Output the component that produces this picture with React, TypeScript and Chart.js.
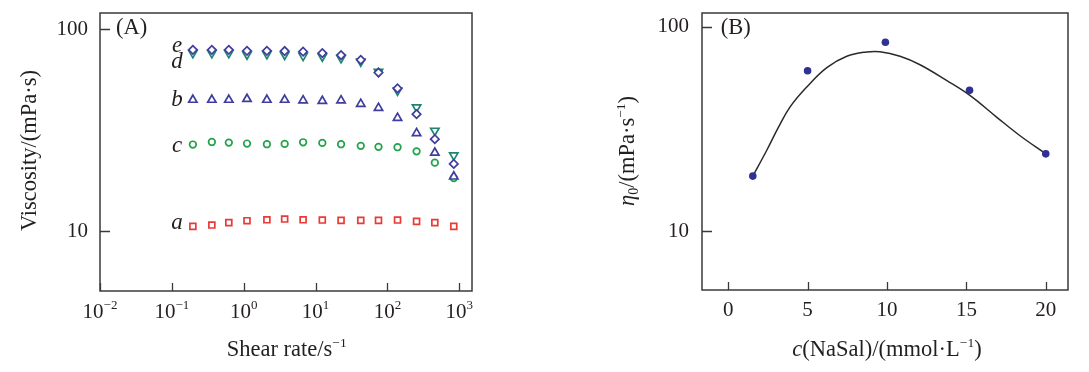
import React, { useEffect, useRef } from "react";
import { Chart, registerables } from "chart.js";

Chart.register(...registerables);

// ---------- Panel A data ----------
const shearRate = [0.196, 0.36, 0.62, 1.11, 2.1, 3.71, 6.7, 12.4, 22.6, 42.5, 75, 138, 254, 456, 837];
const viscA = [10.55, 10.71, 11.0, 11.25, 11.37, 11.47, 11.37, 11.34, 11.3, 11.3, 11.3, 11.34, 11.17, 11.0, 10.55];
const viscB = [44.6, 44.6, 44.6, 45.0, 44.6, 44.6, 44.3, 44.0, 44.3, 42.6, 40.7, 36.3, 30.5, 24.4, 18.6];
const viscC = [26.8, 27.6, 27.4, 27.1, 26.9, 27.0, 27.5, 27.3, 26.9, 26.4, 26.1, 26.0, 24.8, 21.8, 18.3];
const viscD = [76.0, 76.0, 76.0, 74.8, 75.2, 74.6, 73.7, 73.1, 71.8, 69.1, 61.4, 49.6, 41.0, 31.4, 23.7];
const viscE = [78.9, 78.9, 78.9, 78.0, 78.0, 77.8, 77.2, 76.0, 74.3, 70.4, 60.9, 50.8, 37.9, 28.5, 21.5];

const xTicksA = [0.01, 0.1, 1, 10, 100, 1000];
const xTickBaseA = "10";
const xTickExpA = ["\u22122", "\u22121", "0", "1", "2", "3"];
const yTicks = [10, 100];
const yTickLabels = ["10", "100"];

// ---------- Panel B data ----------
const naSalConc = [1.55, 5.0, 9.9, 15.2, 20.0];
const zeroShearVisc = [18.6, 61, 84.1, 48.9, 23.9];
const fitConc = [1.55, 2.43, 3.16, 3.9, 4.95, 6.21, 7.47, 8.72, 9.56, 10.82, 12.08, 13.75, 15.22, 16.9, 18.36, 20.0];
const fitVisc = [18.6, 24.9, 32.2, 40.6, 50.8, 63.2, 71.8, 75.4, 75.6, 71.8, 65.3, 54.7, 46.2, 36.2, 29.4, 23.9];
const xTicksB = [0, 5, 10, 15, 20];
const xTickLabelsB = ["0", "5", "10", "15", "20"];

const FONT = '"Liberation Serif", "Times New Roman", serif';
const TEXT = "#231f20";
const AXIS = "#3a3a3a";
const TICK_SIZE = 21;
const TITLE_SIZE = 22.5;

type Run = { t: string; size?: number; italic?: boolean; dy?: number };
type RichItem = { x: number; y: number; rot?: number; align?: "left" | "center"; runs: Run[] };

function drawRich(ctx: CanvasRenderingContext2D, item: RichItem) {
  ctx.save();
  ctx.translate(item.x, item.y);
  if (item.rot) ctx.rotate((item.rot * Math.PI) / 180);
  ctx.textBaseline = "alphabetic";
  ctx.textAlign = "left";
  ctx.fillStyle = TEXT;
  const fontOf = (r: Run) => `${r.italic ? "italic " : ""}${r.size || TITLE_SIZE}px ${FONT}`;
  const widths = item.runs.map((r) => {
    ctx.font = fontOf(r);
    return ctx.measureText(r.t).width;
  });
  const total = widths.reduce((a, b) => a + b, 0);
  let cx = item.align === "left" ? 0 : -total / 2;
  item.runs.forEach((r, i) => {
    ctx.font = fontOf(r);
    ctx.fillText(r.t, cx, r.dy || 0);
    cx += widths[i];
  });
  ctx.restore();
}

const panelDecor = {
  id: "panelDecor",
  beforeDatasetsDraw(chart: any) {
    const { ctx, chartArea: a, scales } = chart;
    ctx.save();
    ctx.strokeStyle = AXIS;
    ctx.lineWidth = 1.5;
    ctx.strokeRect(a.left, a.top, a.right - a.left, a.bottom - a.top);
    ctx.lineWidth = 1.3;
    ctx.beginPath();
    scales.x.ticks.forEach((t: any) => {
      const px = Math.round(scales.x.getPixelForValue(t.value)) + 0.5;
      ctx.moveTo(px, a.bottom);
      ctx.lineTo(px, a.bottom - 8);
    });
    scales.y.ticks.forEach((t: any) => {
      const py = Math.round(scales.y.getPixelForValue(t.value)) + 0.5;
      ctx.moveTo(a.left, py);
      ctx.lineTo(a.left + 10, py);
    });
    ctx.stroke();
    ctx.restore();
  },
  afterDraw(chart: any, _args: any, opts: any) {
    const items: RichItem[] = (opts && opts.items) || [];
    items.forEach((it) => drawRich(chart.ctx, it));
    if (opts && opts.powerTicks) {
      const sx = chart.scales.x;
      sx.ticks.forEach((t: any, i: number) => {
        drawRich(chart.ctx, {
          x: sx.getPixelForValue(t.value),
          y: 318,
          runs: [
            { t: xTickBaseA, size: TICK_SIZE },
            { t: xTickExpA[i], size: 13, dy: -9 },
          ],
        });
      });
    }
  },
};

const textsA: RichItem[] = [
  { x: 116, y: 34, align: "left", runs: [{ t: "(A)" }] },
  { x: 177, y: 51.7, runs: [{ t: "e", italic: true, size: 23 }] },
  { x: 177, y: 68.3, runs: [{ t: "d", italic: true, size: 23 }] },
  { x: 177, y: 106, runs: [{ t: "b", italic: true, size: 23 }] },
  { x: 177, y: 151.7, runs: [{ t: "c", italic: true, size: 23 }] },
  { x: 177, y: 229.3, runs: [{ t: "a", italic: true, size: 23 }] },
  { x: 36, y: 150.5, rot: -90, runs: [{ t: "Viscosity/(mPa\u00B7s)" }] },
  { x: 286.7, y: 356, runs: [{ t: "Shear rate/s" }, { t: "\u22121", size: 13.5, dy: -9 }] },
];

const textsB: RichItem[] = [
  { x: 175.7, y: 33.5, align: "left", runs: [{ t: "(B)" }] },
  {
    x: 89,
    y: 151,
    rot: -90,
    runs: [
      { t: "\u03B7", italic: true },
      { t: "0", size: 14, dy: 4 },
      { t: "/(mPa\u00B7s" },
      { t: "\u22121", size: 13.5, dy: -9 },
      { t: ")" },
    ],
  },
  {
    x: 342,
    y: 356,
    runs: [
      { t: "c", italic: true },
      { t: "(NaSal)/(mmol\u00B7L" },
      { t: "\u22121", size: 13.5, dy: -9 },
      { t: ")" },
    ],
  },
];

function tickFont() {
  return { family: FONT, size: TICK_SIZE };
}

const fixX = (h: number) => (s: any) => {
  s.height = h;
  s.paddingLeft = 0;
  s.paddingRight = 0;
  s.paddingTop = 0;
  s.paddingBottom = 0;
};
const fixY = (w: number) => (s: any) => {
  s.width = w;
  s.paddingTop = 0;
  s.paddingBottom = 0;
  s.paddingLeft = 0;
  s.paddingRight = 0;
};

export default function App() {
  const refA = useRef<HTMLCanvasElement>(null);
  const refB = useRef<HTMLCanvasElement>(null);

  useEffect(() => {
    const mk = (xs: number[], ys: number[]) => xs.map((x, i) => ({ x, y: ys[i] }));
    const marker = (label: string, ys: number[], style: string, color: string, radius: number, order: number, rotation = 0) => ({
      label,
      data: mk(shearRate, ys),
      pointStyle: style,
      pointRadius: radius,
      pointRotation: rotation,
      pointBorderWidth: 1.7,
      borderColor: color,
      backgroundColor: "#ffffff",
      showLine: false,
      order,
    });

    const chartA = new Chart(refA.current as HTMLCanvasElement, {
      type: "scatter",
      data: {
        datasets: [
          marker("a", viscA, "rect", "#ea3a36", 4.2, 1),
          marker("e", viscE, "rectRot", "#3f3d9e", 4.2, 2),
          marker("b", viscB, "triangle", "#3f3d9e", 4.8, 3),
          marker("d", viscD, "triangle", "#1f8570", 4.8, 4, 180),
          marker("c", viscC, "circle", "#22a34a", 3.3, 5),
        ] as any,
      },
      options: {
        animation: false,
        responsive: false,
        devicePixelRatio: 1,
        layout: { padding: { left: 0, top: 13, right: 73, bottom: 0 } },
        plugins: {
          legend: { display: false },
          tooltip: { enabled: false },
          panelDecor: { items: textsA, powerTicks: true },
        } as any,
        scales: {
          x: {
            type: "logarithmic",
            min: 0.01,
            max: 1500,
            afterBuildTicks: (s: any) => {
              s.ticks = xTicksA.map((v) => ({ value: v }));
            },
            afterFit: fixX(81),
            grid: { display: false, drawTicks: false },
            border: { display: false },
            ticks: { display: false, autoSkip: false, maxRotation: 0 },
          },
          y: {
            type: "logarithmic",
            min: 5.05,
            max: 120,
            afterBuildTicks: (s: any) => {
              s.ticks = yTicks.map((v) => ({ value: v }));
            },
            afterFit: fixY(100),
            grid: { display: false, drawTicks: false },
            border: { display: false },
            ticks: {
              font: tickFont(),
              color: TEXT,
              padding: 12,
              autoSkip: false,
              callback: (_v: any, i: number) => yTickLabels[i],
            },
          },
        } as any,
      },
      plugins: [panelDecor as any],
    });

    const chartB = new Chart(refB.current as HTMLCanvasElement, {
      type: "scatter",
      data: {
        datasets: [
          {
            label: "points",
            data: mk(naSalConc, zeroShearVisc),
            pointStyle: "circle",
            pointRadius: 3.8,
            pointBorderWidth: 0,
            backgroundColor: "#2f3193",
            borderColor: "#2f3193",
            showLine: false,
            order: 1,
          },
          {
            label: "fit",
            data: mk(fitConc, fitVisc),
            showLine: true,
            pointRadius: 0,
            borderColor: "#2a2a2a",
            borderWidth: 1.5,
            tension: 0.4,
            fill: false,
            order: 2,
          },
        ] as any,
      },
      options: {
        animation: false,
        responsive: false,
        devicePixelRatio: 1,
        layout: { padding: { left: 0, top: 13, right: 21, bottom: 0 } },
        plugins: {
          legend: { display: false },
          tooltip: { enabled: false },
          panelDecor: { items: textsB },
        } as any,
        scales: {
          x: {
            type: "linear",
            min: -1.65,
            max: 21.4,
            afterBuildTicks: (s: any) => {
              s.ticks = xTicksB.map((v) => ({ value: v }));
            },
            afterFit: fixX(82),
            grid: { display: false, drawTicks: false },
            border: { display: false },
            ticks: {
              font: tickFont(),
              color: TEXT,
              padding: 8,
              autoSkip: false,
              maxRotation: 0,
              callback: (_v: any, i: number) => xTickLabelsB[i],
            },
          },
          y: {
            type: "logarithmic",
            min: 5.15,
            max: 117,
            afterBuildTicks: (s: any) => {
              s.ticks = yTicks.map((v) => ({ value: v }));
            },
            afterFit: fixY(157),
            grid: { display: false, drawTicks: false },
            border: { display: false },
            ticks: {
              font: tickFont(),
              color: TEXT,
              padding: 13,
              autoSkip: false,
              callback: (_v: any, i: number) => yTickLabels[i],
            },
          },
        } as any,
      },
      plugins: [panelDecor as any],
    });

    return () => {
      chartA.destroy();
      chartB.destroy();
    };
  }, []);

  return (
    <div style={{ position: "absolute", left: 0, top: 0, width: 1089, height: 372, background: "#fff", overflow: "hidden" }}>
      <canvas ref={refA} width={545} height={372} style={{ position: "absolute", left: 0, top: 0, width: 545, height: 372 }} />
      <canvas ref={refB} width={544} height={372} style={{ position: "absolute", left: 545, top: 0, width: 544, height: 372 }} />
    </div>
  );
}
